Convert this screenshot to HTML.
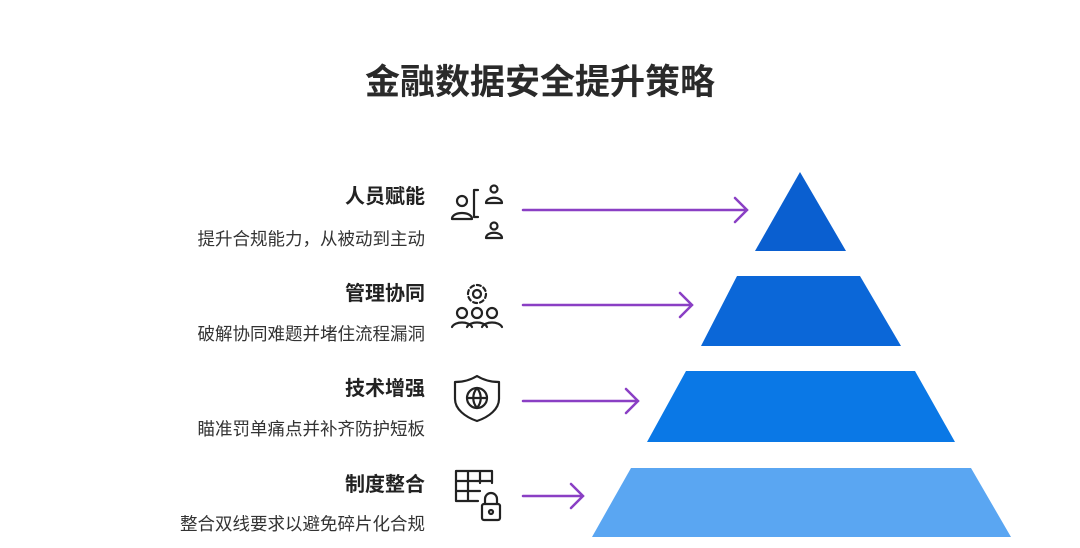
<!DOCTYPE html>
<html><head><meta charset="utf-8"><style>
body{margin:0;width:1080px;height:548px;background:#fff;overflow:hidden;position:relative;font-family:"Liberation Sans","Noto Sans CJK SC",sans-serif;color:#222}
.t{position:absolute;left:0;width:1080px;top:54px;text-align:center;font-size:35px;font-weight:bold;color:#2a2a2a}
.h{position:absolute;right:655px;font-size:20px;font-weight:bold;color:#222;white-space:nowrap}
.s{position:absolute;right:655px;font-size:17.5px;color:#333;white-space:nowrap}
svg{position:absolute;left:0;top:0}
</style></head><body>
<div class="t">金融数据安全提升策略</div>
<div class="h" style="top:180px">人员赋能</div>
<div class="s" style="top:226px">提升合规能力，从被动到主动</div>
<div class="h" style="top:277px">管理协同</div>
<div class="s" style="top:321px">破解协同难题并堵住流程漏洞</div>
<div class="h" style="top:372px">技术增强</div>
<div class="s" style="top:416px">瞄准罚单痛点并补齐防护短板</div>
<div class="h" style="top:468px">制度整合</div>
<div class="s" style="top:511px">整合双线要求以避免碎片化合规</div>
<svg width="1080" height="548">
<polygon points="800,172 846,251 755,251" fill="#0a5fd0"/>
<polygon points="737,276 860,276 901,346 701,346" fill="#0b67d8"/>
<polygon points="686,371 915,371 955,442 647,442" fill="#0a78e6"/>
<polygon points="631,468 971,468 1011,537 592,537" fill="#5aa6f2"/>
<g stroke="#8a3fc4" stroke-width="2.5" fill="none" stroke-linecap="round">
<path d="M523 210H747M735 198L747 210L735 222"/>
<path d="M523 305H692M680 293L692 305L680 317"/>
<path d="M523 401H638M626 389L638 401L626 413"/>
<path d="M523 496H583M571 484L583 496L571 508"/>
</g>
<g stroke="#222" stroke-width="2.2" fill="none" stroke-linecap="round" stroke-linejoin="round">
<circle cx="462" cy="201" r="5"/><path d="M452 219c0-8 20-8 20 0z"/>
<path d="M478 190h-4v27h4"/>
<circle cx="494" cy="189" r="3.5"/><path d="M486 203c0-7 16-7 16 0z"/>
<circle cx="494" cy="226" r="3.5"/><path d="M486 238c0-7 16-7 16 0z"/>
<circle cx="477" cy="294" r="4"/><circle cx="477" cy="294" r="9" stroke-dasharray="4 3"/>
<circle cx="462" cy="313" r="5"/><circle cx="477" cy="313" r="5"/><circle cx="492" cy="313" r="5"/>
<path d="M452 327c3-6 17-6 20 0M467 327c3-6 17-6 20 0M482 327c3-6 17-6 20 0"/>
<path d="M477 376c8 5 15 6 22 6v17c0 10-10 18-22 22c-12-4-22-12-22-22v-17c7 0 14-1 22-6z"/>
<circle cx="477" cy="398" r="10"/><path d="M467 398h20M477 388c-5 6-5 14 0 20c5-6 5-14 0-20"/>
<path d="M478 501h-22v-30h36v12M456 481h36M456 491h24M468 471v30M480 471v12"/>
<rect x="482" y="504" width="18" height="16" rx="2"/><path d="M485 504v-5a6 6 0 0 1 12 0v5"/><circle cx="491" cy="512" r="2"/>
</g>
</svg>
</body></html>
